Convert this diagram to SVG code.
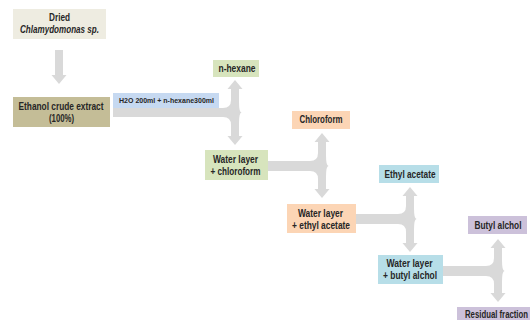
<svg xmlns="http://www.w3.org/2000/svg" width="530" height="320" viewBox="0 0 530 320">
<style>
text{font-family:"Liberation Sans",Arial,sans-serif;font-weight:bold;font-size:10px;fill:#262626;text-anchor:middle}
.sm{font-size:7.5px}
.arr{fill:#d9d9d9}
</style>
<rect width="530" height="320" fill="#ffffff"/>
<g id="connectors">
<path class="arr" d="M55,50 H63 V75 H66.5 L59,84 L51.5,75 H55 Z"/>
<path class="arr" d="M113,108 H223 Q231,108 231,100 V89 H227.5 L235,80 L242.5,89 H239 V102 Q239,112.5 241.5,112.5 Q239,112.5 239,123 V136 H242.5 L235,145 L227.5,136 H231 V125 Q231,117 223,117 H113 Z"/>
<path class="arr" d="M268,161 H310 Q318,161 318,153 V142 H314.5 L322,133 L329.5,142 H326 V155 Q326,166 328.5,166 Q326,166 326,177 V189 H329.5 L322,198 L314.5,189 H318 V179 Q318,171 310,171 H268 Z"/>
<path class="arr" d="M356,214 H398 Q406,214 406,206 V196 H402.5 L410,187 L417.5,196 H414 V208 Q414,219 416.5,219 Q414,219 414,230 V243 H417.5 L410,252 L402.5,243 H406 V232 Q406,224 398,224 H356 Z"/>
<path class="arr" d="M443,266 H486 Q494,266 494,258 V248 H490.5 L498,239 L505.5,248 H502 V260 Q502,271 504.5,271 Q502,271 502,282 V293 H505.5 L498,302 L490.5,293 H494 V284 Q494,276 486,276 H443 Z"/>
</g>
<g id="dried">
<rect x="13" y="9" width="93" height="30" fill="#eeece1"/>
<text x="59.5" y="21" textLength="21" lengthAdjust="spacingAndGlyphs">Dried</text>
<text x="59.5" y="32.5" font-style="italic" textLength="79" lengthAdjust="spacingAndGlyphs">Chlamydomonas  sp.</text>
</g>
<g id="ethanol">
<rect x="13" y="97" width="97" height="30" fill="#c4bd97"/>
<text x="61" y="110" textLength="85" lengthAdjust="spacingAndGlyphs">Ethanol crude extract</text>
<text x="61.5" y="121.5" textLength="25" lengthAdjust="spacingAndGlyphs">(100%)</text>
</g>
<g id="h2o-label">
<rect x="113" y="93" width="106" height="15" fill="#c6d9f1"/>
<text class="sm" x="166.5" y="103" textLength="95" lengthAdjust="spacingAndGlyphs">H2O 200ml  + n-hexane300ml</text>
</g>
<g id="n-hexane">
<rect x="213" y="60" width="46" height="17" fill="#d7e4bd"/>
<text x="237" y="71.5" textLength="37" lengthAdjust="spacingAndGlyphs">n-hexane</text>
</g>
<g id="water-chloroform">
<rect x="205" y="150" width="63" height="30" fill="#d7e4bd"/>
<text x="235.5" y="163" textLength="45" lengthAdjust="spacingAndGlyphs">Water layer</text>
<text x="235.5" y="174.5" textLength="50" lengthAdjust="spacingAndGlyphs">+ chloroform</text>
</g>
<g id="chloroform">
<rect x="292" y="111" width="58" height="18" fill="#fcd5b5"/>
<text x="321" y="123" textLength="43" lengthAdjust="spacingAndGlyphs">Chloroform</text>
</g>
<g id="water-ethyl">
<rect x="287" y="204" width="69" height="29" fill="#fcd5b5"/>
<text x="320.5" y="217" textLength="45" lengthAdjust="spacingAndGlyphs">Water layer</text>
<text x="321" y="228.5" textLength="58" lengthAdjust="spacingAndGlyphs">+ ethyl acetate</text>
</g>
<g id="ethyl-acetate">
<rect x="379" y="165" width="60" height="18" fill="#b7dee8"/>
<text x="410" y="177.5" textLength="51" lengthAdjust="spacingAndGlyphs">Ethyl acetate</text>
</g>
<g id="water-butyl">
<rect x="378" y="255" width="65" height="29" fill="#b7dee8"/>
<text x="409.5" y="267" textLength="46" lengthAdjust="spacingAndGlyphs">Water layer</text>
<text x="410" y="278.5" textLength="54" lengthAdjust="spacingAndGlyphs">+ butyl alchol</text>
</g>
<g id="butyl-alchol">
<rect x="468" y="216" width="59" height="18" fill="#ccc1da"/>
<text x="498" y="228.5" textLength="47" lengthAdjust="spacingAndGlyphs">Butyl alchol</text>
</g>
<g id="residual">
<rect x="457" y="307" width="73" height="13" fill="#ccc1da"/>
<text x="465" y="317.5" style="text-anchor:start" textLength="63" lengthAdjust="spacingAndGlyphs">Residual fraction</text>
</g>
</svg>
